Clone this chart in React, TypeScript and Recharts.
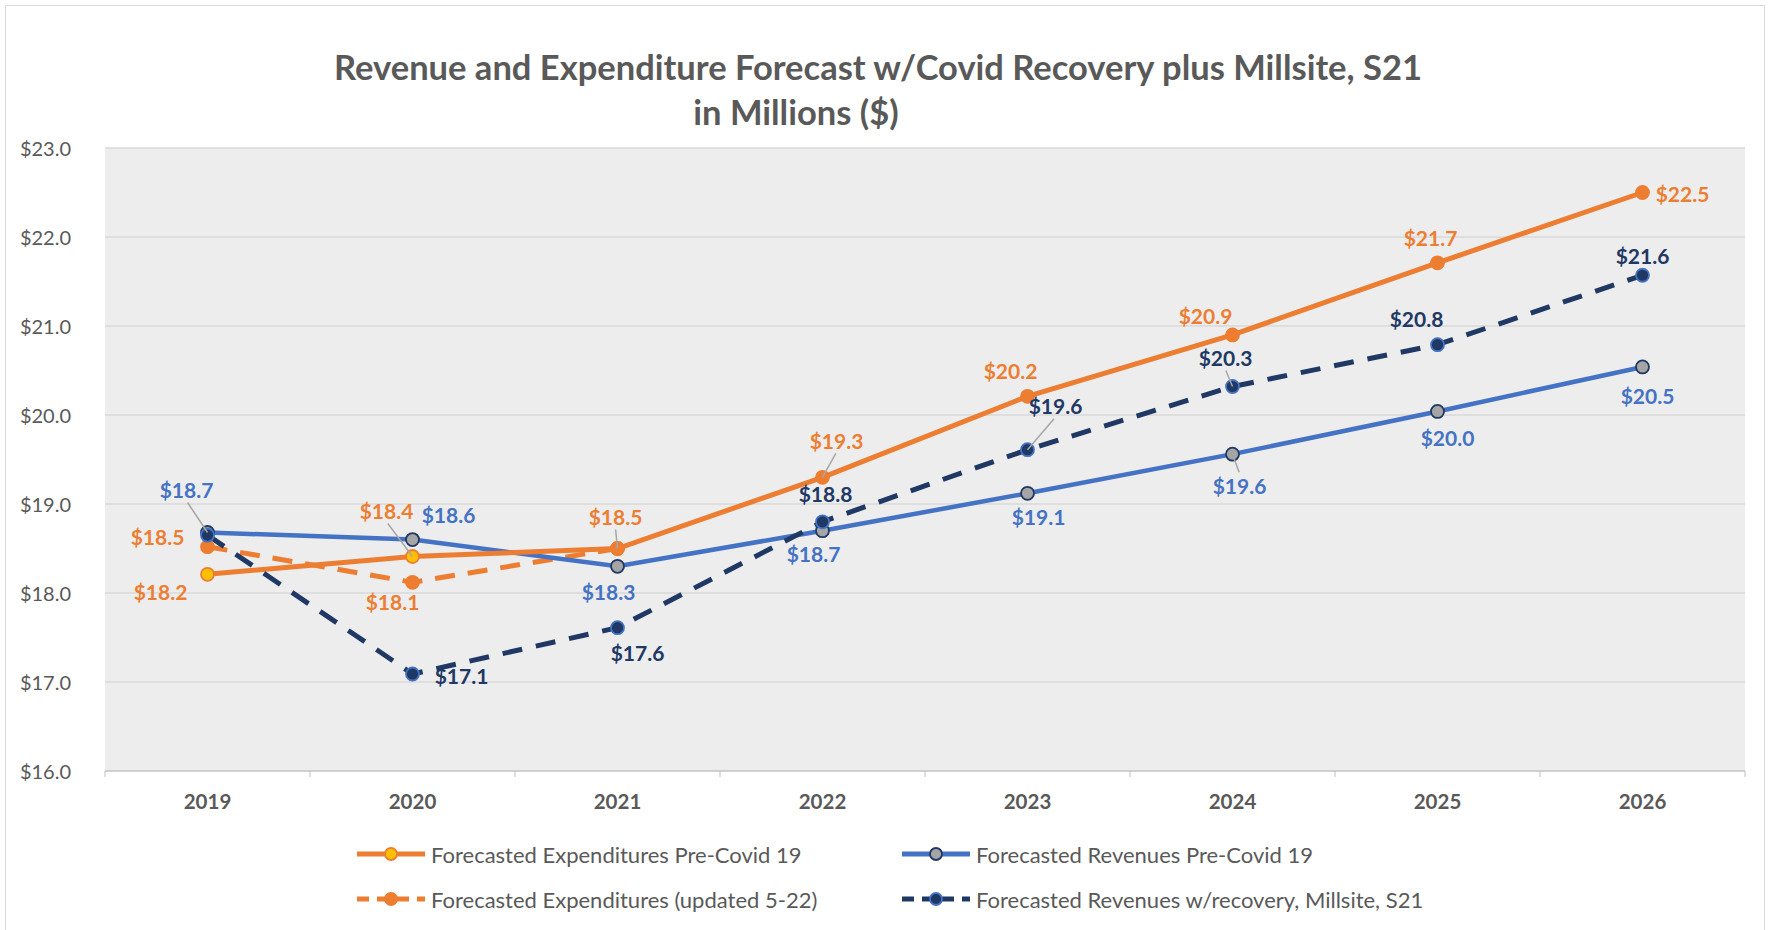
import { LineChart, Line, XAxis, YAxis, CartesianGrid, LabelList } from 'recharts';

const years = ['2019', '2020', '2021', '2022', '2023', '2024', '2025', '2026'];
const expPreCovid = [18.21, 18.41, 18.5, 19.3, 20.21, 20.9, 21.71, 22.5];
const revPreCovid = [18.68, 18.6, 18.3, 18.7, 19.12, 19.56, 20.04, 20.54];
const expUpdated = [18.52, 18.12, 18.5, null, null, null, null, null];
const revRecovery = [18.65, 17.09, 17.61, 18.8, 19.61, 20.32, 20.79, 21.57];
const yTicks = [16, 17, 18, 19, 20, 21, 22, 23];

const ORANGE = '#ED7D31';
const BLUE = '#4472C4';
const NAVY = '#203864';
const YELLOW = '#FFC000';
const GRAY = '#A5A5A5';
const TEXT = '#595959';
const FONT = 'Lato, "Open Sans", sans-serif';

const data = years.map((year, i) => ({
  year,
  expPre: expPreCovid[i],
  revPre: revPreCovid[i],
  expUpd: expUpdated[i],
  revRec: revRecovery[i],
}));

// label placement per point: [dx, dy, leader?]
type Off = [number, number, boolean?] | null;
const expPreLabels: Off[] = [[-47, 17], [-26, -46, true], [-2, -32, true], [14, -37, true], [-17, -26], [-27, -19], [-7, -25], [40, 1]];
const revPreLabels: Off[] = [[-21, -43, true], [36, -25], [-9, 25], [-9, 23], [11, 23], [7, 31, true], [10, 26], [5, 29]];
const expUpdLabels: Off[] = [[-50, -10], [-20, 19], null];
const revRecLabels: Off[] = [null, [49, 2], [20, 25], [3, -28], [28, -44, true], [-7, -29, true], [-21, -26], [0, -20]];

const money = (v: number) => `$${v.toFixed(1)}`;

const makeLabel = (color: string, offs: Off[]) => (props: any) => {
  const { x, y, value, index } = props;
  const o = offs[index];
  if (!o || value == null) return null;
  const [dx, dy, leader] = o;
  const lx = x + dx;
  const ly = y + dy;
  return (
    <g key={`lb-${index}`}>
      {leader && (
        <line
          x1={lx + dx * -0.05}
          y1={ly + (dy < 0 ? 13 : -13)}
          x2={x}
          y2={y}
          stroke="#a6a6a6"
          strokeWidth={1.5}
        />
      )}
      <text
        x={lx}
        y={ly}
        textAnchor="middle"
        dominantBaseline="central"
        fill={color}
        fontFamily={FONT}
        fontWeight={700}
        fontSize={21}
      >
        {money(value)}
      </text>
    </g>
  );
};

const makeDot = (fill: (i: number) => string, stroke: string) => (props: any) => {
  const { cx, cy, index } = props;
  if (cx == null || cy == null || isNaN(cy)) return <g key={`d-${index}`} />;
  return <circle key={`d-${index}`} cx={cx} cy={cy} r={6.5} fill={fill(index)} stroke={stroke} strokeWidth={1.8} />;
};

const YTick = (props: any) => {
  const { x, y, payload } = props;
  return (
    <text x={x - 26} y={y} textAnchor="end" dominantBaseline="central" fill={TEXT} fontFamily={FONT} fontSize={20}>
      {money(payload.value)}
    </text>
  );
};

const BAND = 205;
const XTick = (props: any) => {
  const { x, y, payload, index } = props;
  return (
    <g>
      <line x1={x - BAND / 2} y1={y - 8} x2={x - BAND / 2} y2={y - 2} stroke="#bfbfbf" strokeWidth={1} />
      {index === years.length - 1 && (
        <line x1={x + BAND / 2} y1={y - 8} x2={x + BAND / 2} y2={y - 2} stroke="#bfbfbf" strokeWidth={1} />
      )}
      <text x={x} y={y + 22} textAnchor="middle" dominantBaseline="central" fill={TEXT} fontFamily={FONT} fontWeight={700} fontSize={20.5}>
        {payload.value}
      </text>
    </g>
  );
};

const legendItems = [
  { name: 'Forecasted Expenditures Pre-Covid 19', color: ORANGE, dash: undefined, fill: YELLOW, stroke: ORANGE, left: 355, top: 854 },
  { name: 'Forecasted Revenues Pre-Covid 19', color: BLUE, dash: undefined, fill: GRAY, stroke: NAVY, left: 900, top: 854 },
  { name: 'Forecasted Expenditures (updated 5-22)', color: ORANGE, dash: '12 8', fill: ORANGE, stroke: ORANGE, left: 355, top: 899 },
  { name: 'Forecasted Revenues w/recovery, Millsite, S21', color: NAVY, dash: '12 8', fill: NAVY, stroke: BLUE, left: 900, top: 899 },
];

const titleStyle = { position: 'absolute' as const, textAlign: 'center' as const, color: TEXT, fontWeight: 700, fontSize: 34.5, lineHeight: '45px', whiteSpace: 'nowrap' as const };

const App = () => {
  return (
    <div style={{ position: 'absolute', left: 0, top: 0, width: 1769, height: 930, background: '#fff', overflow: 'hidden', fontFamily: FONT }}>
      <div style={{ position: 'absolute', left: 5, top: 5, width: 1760, height: 940, border: '1px solid #d9d9d9', boxSizing: 'border-box' }} />
      <div style={{ ...titleStyle, left: 0, width: 1756, top: 44 }}>
        Revenue and Expenditure Forecast w/Covid Recovery plus Millsite, S21
      </div>
      <div style={{ ...titleStyle, left: 0, width: 1592, top: 89 }}>
        in Millions ($)
      </div>
      <div style={{ position: 'absolute', left: 0, top: 0 }}>
        <LineChart width={1769} height={930} data={data} margin={{ top: 148, right: 24, left: 20, bottom: 119 }}>
          <CartesianGrid vertical={false} stroke="#d9d9d9" strokeWidth={1.5} fill="#ededed" />
          <XAxis
            dataKey="year"
            padding={{ left: BAND / 2, right: BAND / 2 }}
            axisLine={{ stroke: '#bfbfbf' }}
            tickLine={false}
            tick={<XTick />}
            height={40}
            interval={0}
          />
          <YAxis
            domain={[16, 23]}
            ticks={yTicks}
            axisLine={false}
            tickLine={false}
            tick={<YTick />}
            width={85}
          />
          <Line
            dataKey="expUpd"
            stroke={ORANGE}
            strokeWidth={5}
            strokeDasharray="20 13"
            dot={makeDot(() => ORANGE, ORANGE)}
            isAnimationActive={false}
            connectNulls={false}
          >
            <LabelList dataKey="expUpd" content={makeLabel(ORANGE, expUpdLabels)} />
          </Line>
          <Line
            dataKey="revPre"
            stroke={BLUE}
            strokeWidth={4.5}
            dot={makeDot(() => GRAY, NAVY)}
            isAnimationActive={false}
          >
            <LabelList dataKey="revPre" content={makeLabel(BLUE, revPreLabels)} />
          </Line>
          <Line
            dataKey="expPre"
            stroke={ORANGE}
            strokeWidth={5}
            dot={makeDot((i) => (i < 2 ? YELLOW : ORANGE), ORANGE)}
            isAnimationActive={false}
          >
            <LabelList dataKey="expPre" content={makeLabel(ORANGE, expPreLabels)} />
          </Line>
          <Line
            dataKey="revRec"
            stroke={NAVY}
            strokeWidth={5}
            strokeDasharray="20 14"
            dot={makeDot(() => NAVY, BLUE)}
            isAnimationActive={false}
          >
            <LabelList dataKey="revRec" content={makeLabel(NAVY, revRecLabels)} />
          </Line>
        </LineChart>
      </div>
      {legendItems.map((it) => (
        <div key={it.name} style={{ position: 'absolute', left: it.left, top: it.top - 15, height: 30, display: 'flex', alignItems: 'center' }}>
          <svg width={72} height={20}>
            <line x1={2} y1={10} x2={70} y2={10} stroke={it.color} strokeWidth={5} strokeDasharray={it.dash} />
            <circle cx={36} cy={10} r={6} fill={it.fill} stroke={it.stroke} strokeWidth={1.8} />
          </svg>
          <span style={{ marginLeft: 4, color: TEXT, fontSize: 22, whiteSpace: 'nowrap' }}>{it.name}</span>
        </div>
      ))}
    </div>
  );
};

export default App;
